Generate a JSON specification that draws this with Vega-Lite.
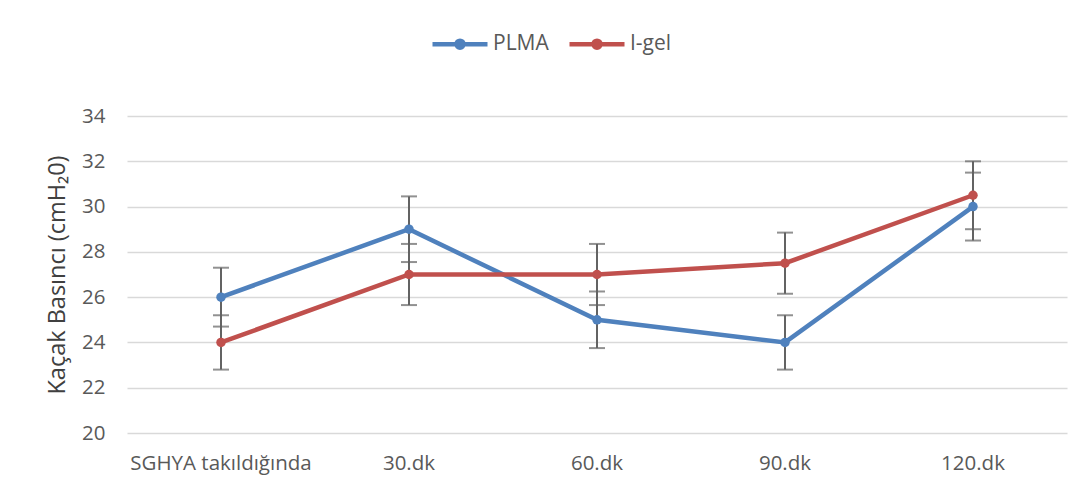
{
  "$schema": "https://vega.github.io/schema/vega-lite/v6.json",
  "width": 940,
  "height": 317,
  "autosize": {"type": "none"},
  "padding": {"left": 127, "top": 116, "right": 25, "bottom": 64},
  "background": "white",
  "config": {
    "font": "Open Sans",
    "view": {"stroke": null},
    "axis": {"labelFont": "Open Sans", "titleFont": "Open Sans", "labelColor": "#595959", "titleColor": "#404040", "labelFontSize": 20.5, "titleFontSize": 23.5, "titleFontWeight": "normal", "labelLimit": 400},
    "legend": {"labelFont": "Open Sans", "labelFontSize": 21, "labelColor": "#595959"}
  },
  "data": {"values": [
    {"t": "SGHYA takıldığında", "s": "PLMA", "v": 26, "lo": 24.7, "hi": 27.3},
    {"t": "30.dk", "s": "PLMA", "v": 29, "lo": 27.55, "hi": 30.45},
    {"t": "60.dk", "s": "PLMA", "v": 25, "lo": 23.75, "hi": 26.25},
    {"t": "90.dk", "s": "PLMA", "v": 24, "lo": 22.8, "hi": 25.2},
    {"t": "120.dk", "s": "PLMA", "v": 30, "lo": 28.5, "hi": 31.5},
    {"t": "SGHYA takıldığında", "s": "I-gel", "v": 24, "lo": 22.8, "hi": 25.2},
    {"t": "30.dk", "s": "I-gel", "v": 27, "lo": 25.65, "hi": 28.35},
    {"t": "60.dk", "s": "I-gel", "v": 27, "lo": 25.65, "hi": 28.35},
    {"t": "90.dk", "s": "I-gel", "v": 27.5, "lo": 26.15, "hi": 28.85},
    {"t": "120.dk", "s": "I-gel", "v": 30.5, "lo": 29, "hi": 32}
  ]},
  "encoding": {
    "x": {"field": "t", "type": "nominal", "sort": ["SGHYA takıldığında", "30.dk", "60.dk", "90.dk", "120.dk"],
      "axis": {"title": null, "labelAngle": 0, "domain": false, "ticks": false, "grid": false, "labelPadding": 20, "labelLimit": 400}}
  },
  "layer": [
    {
      "mark": {"type": "rule", "color": "#636363", "strokeWidth": 2},
      "encoding": {
        "y": {"field": "lo", "type": "quantitative", "scale": {"domain": [20, 34], "nice": false, "zero": false},
          "axis": {"title": "Kaçak Basıncı (cmH₂0)", "values": [20, 22, 24, 26, 28, 30, 32, 34], "grid": true, "gridColor": "#d9d9d9", "gridWidth": 1.5, "domain": false, "ticks": false, "labelPadding": 22, "titlePadding": 12}},
        "y2": {"field": "hi"}
      }
    },
    {
      "mark": {"type": "tick", "color": "#636363", "thickness": 2, "size": 16},
      "encoding": {"y": {"field": "lo", "type": "quantitative"}}
    },
    {
      "mark": {"type": "tick", "color": "#636363", "thickness": 2, "size": 16},
      "encoding": {"y": {"field": "hi", "type": "quantitative"}}
    },
    {
      "mark": {"type": "line", "strokeWidth": 4.5, "point": {"filled": true, "size": 90}},
      "encoding": {
        "y": {"field": "v", "type": "quantitative"},
        "color": {"field": "s", "type": "nominal", "scale": {"domain": ["PLMA", "I-gel"], "range": ["#4f81bd", "#c0504d"]},
          "legend": {"title": null, "orient": "none", "direction": "horizontal", "legendX": 303, "legendY": -102,
            "symbolType": "M-1,0H1M-0.13,0A0.13,0.13 0 1,1 0.13,0A0.13,0.13 0 1,1 -0.13,0Z",
            "symbolSize": 3025, "symbolStrokeWidth": 4.5, "labelOffset": 3, "columnPadding": 11,
            "encode": {"symbols": {"update": {"fill": {"scale": "color", "field": "value"}, "stroke": {"scale": "color", "field": "value"}, "opacity": {"value": 1}}}}}}
      }
    }
  ]
}
